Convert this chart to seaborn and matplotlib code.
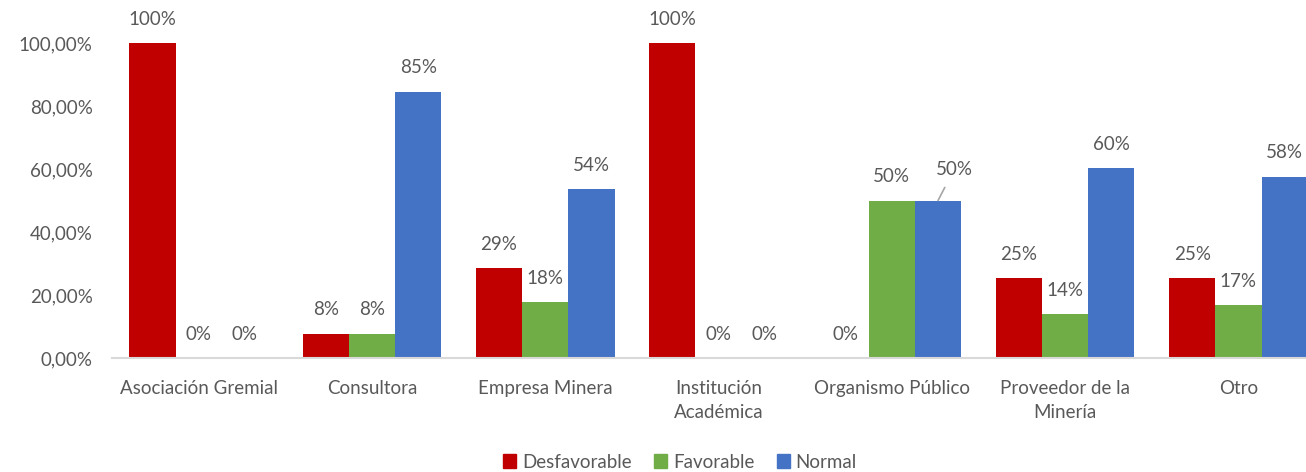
import pandas as pd
import matplotlib
matplotlib.use("Agg")
import matplotlib.pyplot as plt
import seaborn as sns

categories = ["Asociación Gremial", "Consultora", "Empresa Minera",
              "Institución\nAcadémica", "Organismo Público",
              "Proveedor de la\nMinería", "Otro"]
series = ["Desfavorable", "Favorable", "Normal"]
desfavorable = [1.00, 0.077, 0.286, 1.00, 0.00, 0.254, 0.254]
favorable = [0.00, 0.077, 0.178, 0.00, 0.50, 0.14, 0.168]
normal = [0.00, 0.846, 0.536, 0.00, 0.50, 0.603, 0.576]
colors = ["#C00000", "#70AD47", "#4472C4"]

df = pd.DataFrame({
    "cat": categories * 3,
    "serie": [s for s in series for _ in categories],
    "valor": desfavorable + favorable + normal,
})

sns.set_theme(style="white")
plt.rcParams["font.family"] = ["Lato", "DejaVu Sans"]
txt = "#595959"
fs = 13.5

fig = plt.figure(figsize=(13.06, 4.72), dpi=100)
ax = fig.add_axes([112 / 1306, 114 / 472, (1306 - 112) / 1306, (358 - 43) / 472])

sns.barplot(data=df, x="cat", y="valor", hue="serie", palette=colors,
            order=categories, hue_order=series, width=0.8, gap=0,
            saturation=1, linewidth=0, ax=ax, legend=True)

ax.set_ylim(0, 1.0)
ax.set_xlim(-0.5, 6.39)
ax.set_yticks([0, 0.2, 0.4, 0.6, 0.8, 1.0])
ax.set_yticklabels(["0,00%", "20,00%", "40,00%", "60,00%", "80,00%", "100,00%"])
ax.tick_params(axis="y", length=0, pad=14, labelsize=fs, labelcolor=txt)
ax.tick_params(axis="x", length=0, pad=16, labelsize=fs, labelcolor=txt)
for t in ax.get_xticklabels():
    t.set_linespacing(1.45)
ax.set_xlabel("")
ax.set_ylabel("")
for s in ["top", "left", "right"]:
    ax.spines[s].set_visible(False)
ax.spines["bottom"].set_color("#D9D9D9")
ax.spines["bottom"].set_linewidth(1.5)

vals = [desfavorable, favorable, normal]
for i, cont in enumerate(ax.containers):
    labs = []
    for j, v in enumerate(vals[i]):
        if i == 2 and j == 4:
            labs.append("")
        else:
            labs.append(f"{round(v * 100):.0f}%")
    ax.bar_label(cont, labels=labs, padding=11, fontsize=fs, color=txt, clip_on=False)

# Organismo Público - Normal: etiqueta desplazada con línea guía
bar = ax.containers[2][4]
bx = bar.get_x() + bar.get_width() / 2
ax.annotate(f"{round(normal[4] * 100):.0f}%", xy=(bx, normal[4]),
            xytext=(16, 31), textcoords="offset pixels", ha="center", va="center",
            fontsize=fs, color=txt,
            arrowprops=dict(arrowstyle="-", color="#A6A6A6", lw=1.2,
                            shrinkA=5, shrinkB=0))

ax.legend_.remove()
handles = [plt.Rectangle((0, 0), 1, 1, color=c) for c in colors]
fig.legend(handles, series, loc="center", bbox_to_anchor=(680 / 1306, 10 / 472),
           ncol=3, frameon=False, fontsize=fs, handlelength=0.7, handleheight=0.7,
           handletextpad=0.3, columnspacing=1.2, labelcolor=txt)

fig.savefig("out.png", dpi=100)
